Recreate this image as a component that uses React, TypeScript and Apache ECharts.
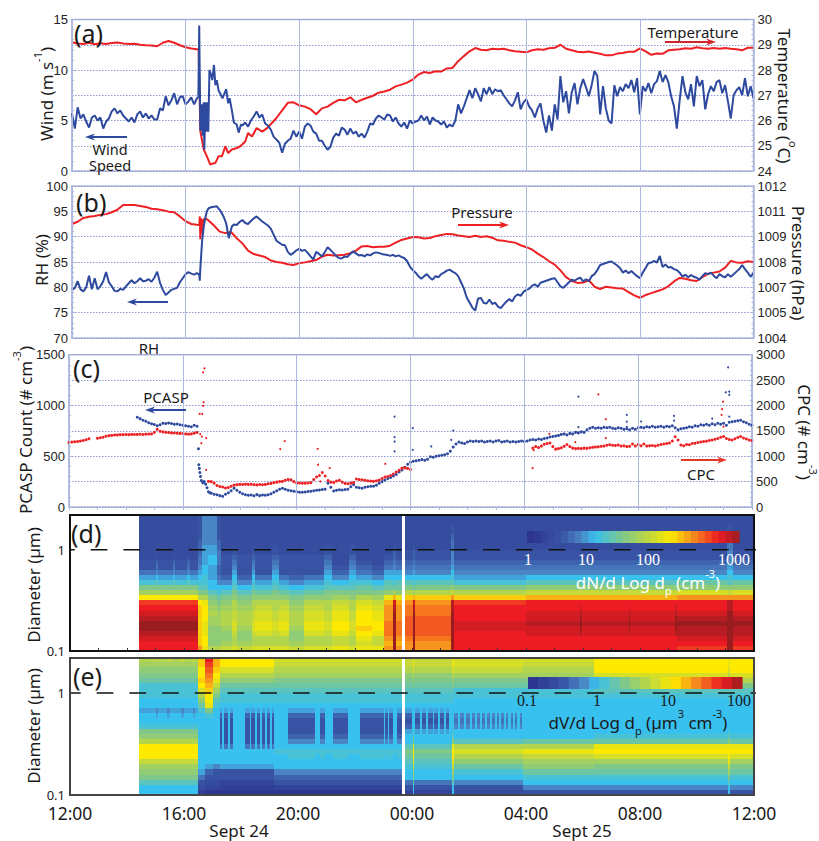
import React, { useEffect, useRef } from "react";
import * as echarts from "echarts";

const timeLabels = ["12:00", "16:00", "20:00", "00:00", "04:00", "08:00", "12:00"];

// Panel (a)
const windEarly = [5.7,4.2,6.3,5.2,5.6,4.9,4.3,5.3,5.5,5.0,5.3,4.2,4.9,5.2,5.9,6.2,5.7,6.0,5.5,5.2,4.9,5.3,4.8,5.6,5.9,5.3,5.7,5.2,5.5,5.1,5.1,6.2,6.0,7.4,6.5,7.0,7.7,6.6,7.3,7.4,6.6,6.9,7.3,6.6,7.2];
const gustHours = [4.45,4.48,4.52,4.57,4.6,4.64,4.66,4.7,4.73,4.77,4.8,4.84,4.9,4.94,5.0,5.05,5.1,5.16,5.25,5.3,5.43,5.5,5.55,5.63,5.7,5.8,5.87,5.95];
const gustSpeed = [7.3,14.4,4.0,6.6,3.5,6.8,2.1,6.8,3.9,6.8,3.9,10,9.5,9.0,10.5,8.5,9.0,8.0,7.5,7.2,8.1,6.7,7.2,6.0,4.8,4.6,3.8,4.6];
const windLate = [4.5,4.8,4.4,5.0,5.4,5.9,5.3,5.6,4.7,4.5,4.1,3.4,3.1,2.8,1.8,2.7,3.0,3.2,4.0,3.4,3.9,3.2,4.4,4.7,4.5,3.9,3.7,3.0,3.0,2.5,2.1,2.4,3.3,3.7,3.5,4.3,4.1,3.6,4.2,3.7,3.9,3.4,3.7,3.3,3.9,4.7,4.6,5.2,5.5,5.3,5.1,5.6,5.5,4.9,5.3,4.7,4.4,4.8,4.2,5.0,4.7,4.9,5.0,5.5,5.0,5.4,4.6,5.3,5.0,4.9,4.6,4.9,4.3,4.6,4.4,5.0,6.6,5.7,6.4,7.2,8.0,7.2,8.2,7.6,6.9,8.2,7.6,8.3,7.6,8.1,7.9,8.0,7.5,7.1,6.7,6.4,7.0,7.8,6.1,6.8,7.1,6.4,6.0,5.3,6.2,6.7,5.0,3.8,5.5,4.0,6.6,5.1,9.4,6.8,7.9,5.7,7.8,8.7,6.6,8.2,9.1,8.3,7.4,8.5,9.9,9.4,5.6,8.4,6.2,5.0,4.7,8.5,7.4,8.3,7.9,8.6,8.2,9.0,7.8,9.2,5.6,8.4,7.9,8.7,7.7,8.6,8.9,9.9,8.8,9.5,8.8,7.4,6.4,4.2,7.0,9.4,7.8,7.1,8.6,6.4,9.4,8.4,9.0,6.1,7.6,8.4,7.9,8.8,9.0,7.7,8.5,6.9,5.2,7.5,8.0,8.3,7.5,9.2,7.4,8.4,7.2];
const tempBefore = [29.1,29.05,29.03,29.08,29.02,29.06,29.03,29.07,29.09,29.05,29.03,29.04,29.0,28.98,28.97,28.94,29.08,29.15,29.08,28.98,28.9,28.85,28.82];
const tempFrontHours = [4.46,4.52,4.64,4.75,4.87,4.96,5.05,5.16,5.28,5.4,5.5,5.63,5.78,5.93,6.1,6.2,6.34,6.5,6.7,6.87,7.04];
const tempFront = [28.8,25.57,24.85,24.58,24.25,24.3,24.32,24.58,24.58,24.98,24.71,24.85,24.9,24.98,25.17,25.5,25.37,25.7,25.56,25.7,25.9];
const tempAfter = [26.1,26.4,26.7,26.72,26.6,26.55,26.45,26.25,26.48,26.55,26.7,26.82,26.8,26.92,26.72,26.82,26.9,26.98,27.1,27.15,27.22,27.35,27.42,27.5,27.62,27.82,27.92,27.88,27.95,27.94,28.06,28.08,28.35,28.55,28.74,28.87,28.8,28.78,28.84,28.82,28.84,28.78,28.74,28.72,28.7,28.78,28.82,28.8,28.86,28.88,29.0,28.84,28.78,28.72,28.7,28.73,28.68,28.64,28.58,28.58,28.65,28.67,28.72,28.72,28.86,28.74,28.6,28.65,28.64,28.78,28.8,28.82,28.86,28.84,28.9,28.86,28.84,28.87,28.84,28.87,28.84,28.82,28.78,28.88,28.88];

// Panel (b)
const rhBefore = [79.5,79.9,81.2,79.6,79.2,80.0,82.3,79.6,81.8,79.6,80.2,81.2,83.0,81.0,80.2,79.3,79.2,79.7,79.5,80.2,80.8,81.4,80.8,81.2,81.8,81.2,81.3,81.6,81.1,81.9,83.1,80.9,79.5,78.5,79.0,79.5,79.7,79.9,81.0,81.8,82.6,83.0,82.7,82.5,82.8];
const rhFrontHours = [4.48,4.5,4.52,4.58,4.64,4.69,4.75,4.81,4.9,5.0,5.1,5.2,5.28,5.35,5.43,5.52,5.63,5.7];
const rhFront = [82.5,81.3,83.8,89,92,93.6,95,95.6,95.8,95.9,96,95.3,94.6,93.8,92.6,89.7,92,92.4];
const rhAfter = [92.3,92.9,93.3,92.7,92.5,93.1,93.6,94,93.5,93,92.6,92.2,91.6,90.4,89.2,88.8,88.4,88.3,87.0,86.4,86.8,87.3,87.6,87.2,87.4,86.8,86.1,85.5,87.0,86.6,86.1,86.9,87.9,87.4,86.8,86.2,85.8,85.7,86.1,86.0,86.6,87.1,86.7,86.3,86.4,86.1,86.5,86.3,86.7,86.9,86.8,86.6,86.5,86.4,86.2,86.4,86.1,86.3,86.0,85.8,85.2,84.1,83.4,82.9,82.2,81.7,82.2,82.6,81.9,81.5,82.2,82.0,82.6,82.9,83.3,83.5,83.1,82.8,82.2,81.0,79.8,78.0,77.0,76.0,75.4,77.8,77.9,76.9,76.8,77.6,76.7,77.0,76.2,75.9,76.6,77.2,77.7,77.2,78.2,78.6,78.3,79.1,79.5,79.7,80.3,80.6,80.1,80.9,81.1,81.3,81.5,81.7,81.8,81.0,80.2,79.9,80.4,81.0,81.5,81.3,81.7,81.9,81.2,81.6,81.2,82.2,82.6,83.4,84.4,84.6,84.8,85.0,85.1,84.7,84.3,83.8,82.9,83.3,82.8,83.2,82.7,82.2,81.8,82.9,83.8,84.8,84.9,85.2,84.9,86.2,84.0,84.5,83.9,84.0,83.6,83.4,82.9,82.1,82.5,82.0,82.4,82.1,81.9,81.5,82.2,82.8,82.6,82.9,82.3,81.8,82.6,82.2,82.0,82.6,82.1,82.6,83.1,83.6,84.4,83.6,82.9,82.1,82.8];
const pressureBefore = [1010,1010.12,1010.32,1010.38,1010.42,1010.48,1010.52,1010.62,1010.75,1011,1011,1011,1010.95,1010.9,1010.8,1010.78,1010.72,1010.65,1010.62,1010.4,1010.15,1010,1009.96];
const pressureFrontHours = [4.48,4.5,4.52,4.55,4.58,4.62,4.69];
const pressureFront = [1009.95,1010.4,1009.2,1010.3,1009.5,1010.2,1010.3];
const pressureAfter = [1010.2,1009.92,1009.6,1009.52,1009.58,1009.25,1008.98,1008.6,1008.42,1008.34,1008.26,1008.08,1008.0,1007.96,1007.88,1007.84,1007.94,1007.98,1008.04,1008.1,1008.28,1008.38,1008.34,1008.36,1008.38,1008.46,1008.6,1008.82,1008.84,1008.78,1008.8,1008.8,1008.86,1009.02,1009.16,1009.24,1009.32,1009.3,1009.24,1009.26,1009.36,1009.42,1009.48,1009.46,1009.4,1009.36,1009.32,1009.38,1009.32,1009.36,1009.28,1009.14,1009.12,1009.06,1009.02,1008.88,1008.78,1008.66,1008.44,1008.26,1008.04,1007.86,1007.56,1007.2,1007.0,1006.9,1006.92,1007.04,1006.7,1006.58,1006.7,1006.66,1006.62,1006.6,1006.42,1006.24,1006.12,1006.26,1006.36,1006.46,1006.56,1006.72,1006.98,1007.16,1007.12,1007.04,1007,1007.2,1007.38,1007.44,1007.5,1007.7,1008.06,1007.98,1007.96,1008.04,1008];

// Panel (c)
const pcaspFirst = [884,870,855,845,830,820,812,800,810,825,822,828,822,815,818,810,805,800,796,790,805,795];
const pcaspOnsetHours = [4.55,4.56,4.58,4.6,4.62,4.65,4.7,4.75,4.8,4.85,4.9,4.95];
const pcaspOnset = [573,416,380,340,300,260,240,250,225,190,150,140];
const pcaspMain = [135,125,120,112,105,125,140,160,185,165,145,130,120,115,118,110,122,112,118,115,120,130,145,160,175,185,175,165,160,155,150,145,145,148,152,155,160,165,168,172,175,235,195,158,165,170,168,172,175,200,220,195,190,185,195,200,205,205,215,235,250,265,280,290,305,320,345,365,390,420,440,450,455,460,468,460,470,495,490,500,505,510,515,525,550,590,620,640,630,625,640,650,645,650,645,650,640,645,650,640,650,655,640,645,650,640,645,640,645,650,645,650,660,665,660,670,665,675,680,690,695,700,705,715,720,710,725,720,735,730,740,735,760,775,785,775,780,775,785,780,785,775,770,780,775,765,770,760,775,765,780,785,780,790,785,795,785,790,795,785,795,790,800,780,760,770,775,780,790,785,800,795,810,805,815,805,820,810,825,815,825,805,835,840,845,850,855,840,830,815,805];
const pcaspStrayHours = [11.44,11.44,11.44,11.44,12.08,12.08,12.73,13.5,13.43,17.9,17.9,19.6,19.6,19.6,20.1,21.26,21.26,22.6,23.16,23.08,23.2,23.2,23.2];
const pcaspStray = [890,688,645,547,776,563,596,753,660,1087,786,907,840,790,842,897,850,870,1375,1130,1136,1104,890];
const cpcStart = [1270,1280,1285,1290,1300,1310,1325,1345];
const cpcMorning = [1355,1365,1375,1395,1405,1410,1418,1420,1425,1425,1428,1425,1430,1428,1430,1432,1428,1435,1438,1440,1470,1530,1490,1480,1470,1468,1460,1458,1455,1450,1448,1440,1435,1440,1455,1467];
const cpcEvening = [504,500,470,425,405,395,375,385,410,430,440,445,442,450,445,448,440,435,442,438,445,458,465,480,490,500,505,525,540,535,500,470,472,468,470,472,480,540,590,620,680,610,520,490,485,510,525,490,465,458,470,480,550,540,535,525,515,510,505,515,530,560,590,600,620,650,690,725,765,770,760,740];
const cpcDawn = [1160,1190,1170,1200,1235,1250,1260,1190,1140,1150,1165,1195,1230,1190,1160,1150,1155,1150,1160,1155,1165,1175,1180,1185,1195,1200,1215,1225,1215,1210,1220,1200,1205,1190,1195,1240,1200,1230,1205,1240,1200,1205,1210,1200,1215,1230,1240,1250,1260,1300,1385,1320,1220,1205,1230,1225,1250,1255,1270,1280,1290,1295,1310,1320,1335,1350,1375,1390,1350,1330,1320,1345,1370,1390,1360,1340,1320,1310];
const cpcStrayHours = [4.61,4.67,4.73,4.71,4.68,4.59,4.76,4.71,4.65,4.82,4.82,7.42,7.58,8.74,8.75,9.16,11.11,8.83,16.29,16.33,16.88,17.79,18.6,18.86,18.86,22.98,22.95,22.93,23.0];
const cpcStray = [1434,1388,2063,1991,1834,1834,2731,2652,1257,1355,733,1140,1297,1146,832,766,851,504,766,1120,1441,1277,2220,1729,1356,2076,1926,1814,1585];

// Panels (d) and (e): lower edges of the diameter bins, in micrometres
const diameterEdges = [0.1,0.112,0.126,0.141,0.158,0.178,0.2,0.224,0.251,0.282,0.316,0.355,0.398,0.447,0.501,0.562,0.631,0.708,0.794,0.891,1,1.122,1.259,1.413,1.585,1.778,1.995,2.2];

// Number size spectra, in tenths of a decade above 1 cm-3, from smallest bin to largest
const dnPreA = [28,28,29,30,31,31,30,29,28,27,21,16,14,11,9,7,5,5,4,4,4,4,4,4,4,4,4];
const dnPreB = [28,28,29,30,31,31,30,29,28,27,21,16,14,12,10,8,7,6,5,4,4,4,4,4,4,4,4];
const dnEvA = [24,22,22,22,22,22,22,22,22,21,17,14,12,11,10,9,8,7,7,6,6,6,5,5,5,5,5];
const dnEvB = [20,21,21,20,20,20,21,21,21,20,17,14,12,11,11,10,10,9,9,9,9,8,8,8,8,8,8];
const dnEvC = [17,15,15,15,15,16,16,17,16,15,14,12,10,10,9,9,9,10,10,9,9,8,8,8,8,8,8];
const dnEvD = [17,15,15,15,15,16,16,16,15,14,13,11,10,8,7,6,6,7,7,7,6,6,5,5,5,5,5];
const dnDayA = [18,16,15,15,16,17,17,17,16,15,14,12,10,8,6,5,5,5,5,4,4,4,4,4,4,4,4];
const dnDayB = [19,17,17,19,20,20,19,19,18,17,15,13,11,9,7,5,5,5,5,4,4,4,4,4,4,4,4];
const dnDayC = [19,17,17,18,19,19,18,18,17,17,15,14,12,11,10,9,8,7,6,5,5,4,4,4,4,4,4];
const dnNightA = [20,18,18,20,21,21,20,20,19,18,16,14,12,10,8,6,5,4,4,4,4,4,4,4,4,4,4];
const dnNightB = [20,19,20,21,22,21,21,21,20,19,17,14,13,11,9,7,6,5,4,4,4,4,4,4,4,4,4];
const dnOrange = [24,23,24,25,25,25,24,24,24,23,20,15,13,12,10,9,7,6,5,4,4,4,4,4,4,4,4];
const dnDark = [31,31,31,31,31,31,31,31,30,29,23,16,13,11,10,9,8,7,6,6,5,4,4,4,4,4,4];
const dnAfter = [24,24,25,26,26,26,26,25,25,24,22,17,14,12,10,8,7,6,5,5,4,4,4,4,4,4,4];
const dnLateA = [28,28,28,28,29,29,28,28,28,27,22,17,14,11,9,8,7,6,5,5,4,4,4,4,4,4,4];
const dnLateB = [28,28,28,29,29,30,29,29,28,28,23,18,15,12,10,8,7,6,5,5,4,4,4,4,4,4,4];
const dnLateC = [27,28,29,30,30,31,30,29,28,28,24,19,15,13,10,8,7,6,5,5,4,4,4,4,4,4,4];
const dnLateMild = [28,28,28,30,31,31,31,30,29,28,23,18,15,12,10,8,7,6,5,5,4,4,4,4,4,4,4];
const dnLateDark = [31,31,31,31,31,31,31,31,30,30,24,18,15,12,11,10,9,8,8,8,7,7,6,5,5,4,4];
const dnColumns: [number, number, number[]][] = [
  [2.42,3.0,dnPreA],[3.0,3.1,dnPreB],[3.1,3.6,dnPreA],[3.6,3.7,dnPreB],[3.7,4.1,dnPreA],[4.1,4.2,dnPreB],[4.2,4.5,dnPreA],
  [4.5,4.62,dnEvA],[4.62,4.85,dnEvB],[4.85,5.15,dnEvC],[5.15,5.3,dnEvD],
  [5.3,5.7,dnDayA],[5.7,5.85,dnDayC],[5.85,6.4,dnDayA],[6.4,6.5,dnDayC],[6.5,7.1,dnDayB],[7.1,7.35,dnDayC],[7.35,7.7,dnDayB],[7.7,8.2,dnDayA],[8.2,8.9,dnDayB],[8.9,9.2,dnDayC],[9.2,9.8,dnNightA],[9.8,10.05,dnDayC],[10.05,10.6,dnNightB],[10.6,11.0,dnNightA],
  [11.0,11.35,dnOrange],[11.35,11.45,dnDark],[11.45,11.66,dnOrange],
  [11.74,12.05,dnAfter],[12.05,12.12,dnDark],[12.12,13.38,dnAfter],[13.38,13.48,dnLateDark],[13.48,16,dnLateA],
  [16,17.9,dnLateB],[17.9,17.98,dnLateMild],[17.98,19.6,dnLateB],[19.6,19.66,dnLateMild],[19.66,21.24,dnLateB],[21.24,21.3,dnLateMild],[21.3,23.05,dnLateC],[23.05,23.25,dnLateDark],[23.25,24,dnLateC],
];

// Volume size spectra, in tenths of a decade above 0.1 um3 cm-3, from smallest bin to largest
const dvPre = [10,10,12,14,15,16,18,21,21,21,17,15,14,11,10,10,9,10,10,11,11,11,13,14,15,16,17];
const dvPreSpeck = [10,10,12,14,15,16,18,21,21,21,17,15,14,11,10,9,8,10,10,11,11,11,13,14,15,16,18];
const dvOnset = [2,4,5,7,9,10,10,10,10,10,10,10,10,10,10,10,11,13,15,17,19,21,22,21,21,22,22];
const dvPlume = [1,3,4,5,6,9,10,10,10,10,10,10,10,10,10,11,14,20,21,21,22,23,24,25,26,27,28];
const dvFade = [1,3,4,5,5,8,10,10,10,10,10,10,10,10,10,10,10,11,12,14,16,18,20,21,22,23,23];
const dvDay = [1,2,3,5,5,9,10,10,10,10,10,10,10,10,10,10,10,10,11,11,12,13,15,17,19,21,21];
const dvDayBlock = [1,2,3,5,5,9,10,10,10,7,5,5,5,5,5,6,9,10,11,11,12,13,15,17,19,21,21];
const dvNight = [1,3,5,6,8,10,10,10,11,10,10,10,10,10,10,10,10,10,11,11,12,13,14,16,17,18,19];
const dvNightBlock = [1,3,5,6,8,10,10,11,11,10,8,6,5,5,5,6,9,10,11,11,12,13,14,16,17,18,19];
const dvDawn = [3,5,7,10,10,11,12,13,14,12,10,10,10,10,10,10,10,10,11,11,12,13,14,15,17,18,18];
const dvDawnBlock = [3,5,7,10,10,11,12,13,14,12,10,10,9,6,5,6,9,10,11,11,12,13,14,15,17,18,18];
const dvYellow = [10,10,12,14,16,18,20,21,21,20,15,12,11,10,10,10,10,10,11,11,12,14,15,17,19,20,20];
const dvMorn = [4,5,8,10,11,13,15,17,19,17,12,10,10,10,10,10,10,10,10,11,11,13,14,16,18,19,19];
const dvMornBlock = [4,5,8,10,11,13,15,17,19,17,12,10,10,8,7,8,10,10,10,11,11,13,14,16,18,19,19];
const dvMid = [5,8,10,11,13,15,16,18,20,17,13,10,10,10,10,10,10,10,10,11,11,13,14,16,17,18,19];
const dvLate = [5,8,10,11,13,14,16,19,21,20,13,11,10,10,10,10,10,10,10,11,12,14,17,19,21,21,21];
const dawnStripeEdges = [12.1,12.28,12.34,12.5,12.56,12.72,12.78,12.92,12.98,13.12,13.18,13.3,13.4];
const mornStripeEdges = [13.46,13.62,13.7,13.82,13.9,14.02,14.1,14.2,14.28,14.38,14.46,14.56,14.64,14.74,14.82,14.9,14.98,15.06,15.14,15.22,15.3,15.38,15.46,15.54,15.62,15.7,15.78,15.86,15.9];
const dvColumns: [number, number, number[]][] = [
  [2.42,3.0,dvPre],[3.0,3.1,dvPreSpeck],[3.1,3.4,dvPre],[3.4,3.5,dvPreSpeck],[3.5,3.9,dvPre],[3.9,4.0,dvPreSpeck],[4.0,4.3,dvPre],[4.3,4.4,dvPreSpeck],[4.4,4.5,dvPre],
  [4.5,4.72,dvOnset],[4.72,5.0,dvPlume],[5.0,5.26,dvFade],
  [5.26,5.35,dvDayBlock],[5.35,5.42,dvDay],[5.42,5.55,dvDayBlock],[5.55,5.6,dvDay],[5.6,5.73,dvDayBlock],[5.73,6.14,dvDay],[6.14,6.3,dvDayBlock],[6.3,6.36,dvDay],[6.36,6.5,dvDayBlock],[6.5,6.56,dvDay],[6.56,6.67,dvDayBlock],[6.67,6.73,dvDay],[6.73,6.85,dvDayBlock],[6.85,6.9,dvDay],[6.9,7.0,dvDayBlock],[7.0,7.1,dvDay],[7.1,7.16,dvDayBlock],[7.16,7.66,dvNight],
  [7.66,8.6,dvNightBlock],[8.6,8.77,dvNight],[8.77,8.95,dvNightBlock],[8.95,9.24,dvNight],[9.24,9.77,dvNightBlock],[9.77,10.17,dvNight],[10.17,11.0,dvNightBlock],[11,11.06,dvNight],[11.06,11.15,dvNightBlock],[11.15,11.2,dvNight],[11.2,11.35,dvNightBlock],[11.35,11.46,dvNight],[11.46,11.66,dvNightBlock],
  [11.74,12.0,dvDawnBlock],[12.0,12.04,dvDawn],[12.04,12.08,dvYellow],[12.08,12.1,dvDawn],[13.4,13.46,dvYellow],
  [15.9,18.4,dvMid],[18.4,23.08,dvLate],[23.08,23.16,dvYellow],[23.16,24,dvLate],
];

const colorStops: [number, number[]][] = [
  [0,[42,48,140]],[5,[57,83,164]],[8,[74,134,197]],[10,[56,192,238]],[14,[127,200,138]],[19,[214,222,38]],[21,[253,234,0]],[24,[247,148,29]],[28,[237,28,36]],[31,[155,28,31]],
];
function levelColor(v: number): string {
  for (let i = 1; i < colorStops.length; i++) {
    const [v1, c1] = colorStops[i];
    const [v0, c0] = colorStops[i - 1];
    if (v <= v1) {
      const f = (v - v0) / (v1 - v0);
      return `rgb(${c0.map((c, k) => Math.round(c + (c1[k] - c) * f)).join(",")})`;
    }
  }
  return "rgb(155,28,31)";
}

const SANS = '"Noto Sans", sans-serif';
const ARIAL = '"Liberation Sans", Arial, sans-serif';
const SERIF = '"Liberation Serif", serif';
const RED = "#ed2024";
const BLUE = "#2e4a9e";
const GRIDC = "#aeb7de";

const stepped = (start: number, values: number[], step = 0.1) => values.map((v, i) => [+(start + step * i).toFixed(2), v]);
const paired = (hs: number[], vs: number[]) => hs.map((h, i) => [h, vs[i]]);

function cells(columns: [number, number, number[]][]) {
  const out: number[][] = [];
  columns.forEach(([h0, h1, profile]) => {
    profile.forEach((v, i) => out.push([h0, h1, v, diameterEdges[i], diameterEdges[i + 1]]));
  });
  return out;
}
function stripes(edges: number[], a: number[], b: number[]) {
  const out: [number, number, number[]][] = [];
  for (let i = 0; i + 1 < edges.length; i++) out.push([edges[i], edges[i + 1], i % 2 === 0 ? a : b]);
  return out;
}

function renderCell(_p: any, api: any) {
  const a = api.coord([api.value(0), api.value(4)]);
  const b = api.coord([api.value(1), api.value(3)]);
  const x0 = Math.round(a[0]), x1 = Math.round(b[0]), y0 = Math.round(a[1]), y1 = Math.round(b[1]);
  return { type: "rect", shape: { x: x0, y: y0, width: x1 - x0, height: y1 - y0 }, style: { fill: levelColor(api.value(2)) } };
}

function text(x: number, y: number, t: string, size: number, o: any = {}) {
  return {
    type: "text", x, y, z: 60, rotation: o.rotation || 0,
    style: {
      text: t, fontSize: size, fontFamily: o.font || SANS, fill: o.fill || "#1a1a1a",
      align: o.align || "center", verticalAlign: "middle", lineHeight: o.lineHeight,
      rich: o.rich,
    },
  };
}
function supRich(size: number, fill = "#1a1a1a", font = SANS) {
  return {
    a: { fontSize: size, fontFamily: font, fill, lineHeight: size + 6, verticalAlign: "bottom" },
    s: { fontSize: Math.round(size * 0.62), fontFamily: font, fill, lineHeight: size + 6, verticalAlign: "top" },
    u: { fontSize: Math.round(size * 0.62), fontFamily: font, fill, lineHeight: size + 6, verticalAlign: "bottom", padding: [0, 0, -5, 0] },
  };
}
function arrow(x0: number, x1: number, y: number, color: string) {
  const dir = x1 > x0 ? 1 : -1;
  return [
    { type: "line", z: 60, shape: { x1: x0, y1: y, x2: x1 - dir * 4, y2: y }, style: { stroke: color, lineWidth: 2 } },
    { type: "polygon", z: 60, shape: { points: [[x1, y], [x1 - dir * 10, y - 3.5], [x1 - dir * 7, y], [x1 - dir * 10, y + 3.5]] }, style: { fill: color } },
  ];
}
function colorBar(x0: number, x1: number, y0: number, y1: number, steps: number) {
  const out: any[] = [];
  const w = (x1 - x0) / steps;
  for (let i = 0; i < steps; i++) {
    out.push({
      type: "rect", z: 55,
      shape: { x: x0 + i * w, y: y0, width: w + 0.6, height: y1 - y0 },
      style: { fill: levelColor(((i + 0.5) / steps) * 31) },
    });
  }
  return out;
}
function frame(x: number, y: number, w: number, h: number, color: string) {
  return { type: "rect", z: 58, shape: { x, y, width: w, height: h }, style: { fill: "none", stroke: color, lineWidth: 2 } };
}

function baseX(gridIndex: number, showLabel: boolean, showSplit: boolean, tickAt?: "top" | "bottom", tickColor = GRIDC) {
  return {
    type: "value", gridIndex, min: 0, max: 24, interval: 4, z: 30,
    position: tickAt || "bottom",
    axisLine: { show: false },
    axisTick: { show: !!tickAt, inside: true, length: 3, lineStyle: { color: tickColor } },
    minorTick: { show: !!tickAt, splitNumber: 4, length: 3, lineStyle: { color: tickColor } },
    axisLabel: showLabel
      ? { show: true, margin: 10, fontSize: 17.5, lineHeight: 15, fontFamily: SANS, color: "#1a1a1a", formatter: (v: number) => timeLabels[v / 4] }
      : { show: false },
    splitLine: { show: showSplit, lineStyle: { color: GRIDC, width: 1 } },
  };
}
function baseY(gridIndex: number, position: string, min: number, max: number, interval: number, fmt: (v: number) => string = (v) => String(v), dotted = true) {
  return {
    type: "value", gridIndex, position, min, max, interval,
    axisLine: { show: true, lineStyle: { color: GRIDC, width: 1.5 } },
    axisTick: { show: true, inside: true, length: 3, lineStyle: { color: GRIDC } },
    minorTick: { show: true, splitNumber: 5, length: 2, lineStyle: { color: GRIDC } },
    axisLabel: { margin: 4, fontSize: 13, fontFamily: ARIAL, color: "#222", formatter: fmt },
    splitLine: { show: dotted, lineStyle: { color: "#8f9bd0", width: 1, type: [1.5, 1.5] } },
  };
}
function logY(gridIndex: number) {
  return {
    type: "log", logBase: 10, gridIndex, min: 0.1, max: 2.2,
    axisLine: { show: false }, axisTick: { show: false }, splitLine: { show: false }, minorTick: { show: false },
    axisLabel: {
      margin: 5, fontSize: 13, lineHeight: 10, fontFamily: SANS, color: "#222", showMinLabel: true, showMaxLabel: false,
      formatter: (v: number) => (Math.abs(v - 1) < 0.01 ? "1" : Math.abs(v - 0.1) < 0.01 ? "0.1" : ""),
    },
  };
}
function dashed(xAxisIndex: number, yAxisIndex: number, offset: number) {
  return {
    type: "line", xAxisIndex, yAxisIndex, z: 20, clip: false, showSymbol: false, silent: true,
    data: [[0, 1], [24.2, 1]],
    lineStyle: { color: "#111", width: 1.6, type: [16.7, 16], dashOffset: offset },
  };
}

const gridBox = (left: number, right: number, top: number, bottom: number) => ({
  left, top, width: right - left, height: bottom - top, show: true, borderColor: GRIDC, borderWidth: 1.5, backgroundColor: "transparent",
});

function buildOption() {
  const windData = [...stepped(0, windEarly), ...paired(gustHours, gustSpeed), ...stepped(6, windLate)];
  const tempData = [...stepped(0, tempBefore, 0.2), ...paired(tempFrontHours, tempFront), ...stepped(7.2, tempAfter, 0.2)];
  const rhData = [...stepped(0, rhBefore), ...paired(rhFrontHours, rhFront), ...stepped(5.8, rhAfter)];
  const pressureData = [...stepped(0, pressureBefore, 0.2), ...paired(pressureFrontHours, pressureFront), ...stepped(4.8, pressureAfter, 0.2)];
  const dvAllColumns = [...dvColumns, ...stripes(dawnStripeEdges, dvDawnBlock, dvDawn), ...stripes(mornStripeEdges, dvMornBlock, dvMorn)];
  const line = (xi: number, yi: number, data: number[][], color: string, z: number) => ({
    type: "line", xAxisIndex: xi, yAxisIndex: yi, data, showSymbol: false, z, clip: true,
    lineStyle: { color, width: 2 },
  });
  const dots = (xi: number, yi: number, data: number[][], color: string, size: number, z: number) => ({
    type: "scatter", xAxisIndex: xi, yAxisIndex: yi, data, symbolSize: size, z, itemStyle: { color, opacity: 1 },
  });
  const cellSeries = (xi: number, yi: number, data: number[][]) => ({
    type: "custom", xAxisIndex: xi, yAxisIndex: yi, data, renderItem: renderCell, progressive: 0, z: 5,
    encode: { x: [0, 1], y: [3, 4] },
  });
  const graphics: any[] = [
    text(74, 33, "(a)", 25, { align: "left" }),
    text(76, 202, "(b)", 25, { align: "left" }),
    text(73, 368, "(c)", 25, { align: "left" }),
    text(71, 533, "(d)", 25, { align: "left" }),
    text(73, 676, "(e)", 25, { align: "left" }),
    text(43, 94, "{a|Wind (m s}{s|-1}{a|)}", 17, { rotation: Math.PI / 2, rich: supRich(17) }),
    text(787, 96, "{a|Temperature (}{s|o}{a|C)}", 17, { rotation: -Math.PI / 2, rich: supRich(17) }),
    text(41, 260, "RH (%)", 17, { rotation: Math.PI / 2 }),
    text(798, 263, "Pressure (hPa)", 17, { rotation: -Math.PI / 2 }),
    text(22, 430, "{a|PCASP Count (# cm}{s|-3}{a|)}", 17, { rotation: Math.PI / 2, rich: supRich(17) }),
    text(807, 432, "{a|CPC (# cm}{s|-3}{a|)}", 17, { rotation: -Math.PI / 2, rich: supRich(17) }),
    text(33, 585, "Diameter (µm)", 17, { rotation: Math.PI / 2 }),
    text(33, 726, "Diameter (µm)", 17, { rotation: Math.PI / 2 }),
    text(110, 149, "Wind", 14.5, { lineHeight: 12 }),
    text(110, 165, "Speed", 14.5, { lineHeight: 12 }),
    ...arrow(127, 85, 137, BLUE),
    text(693, 32, "Temperature", 15, {}),
    ...arrow(665, 716, 42, "#d0272d"),
    text(482, 212, "Pressure", 15, {}),
    ...arrow(458, 509, 225, RED),
    ...arrow(168, 127, 302, BLUE),
    text(149, 348, "RH", 15, {}),
    text(166, 397, "PCASP", 15, {}),
    ...arrow(186, 145, 410, BLUE),
    text(701, 474, "CPC", 15, {}),
    ...arrow(681, 727, 460, "#e0392b"),
    text(239, 830, "Sept 24", 17, { lineHeight: 18 }),
    text(582, 830, "Sept 25", 17, { lineHeight: 18 }),
    ...colorBar(527, 739, 531, 543, 31),
    text(528, 559, "1", 16, { font: SERIF, fill: "#fff" }),
    text(586, 559, "10", 16, { font: SERIF, fill: "#fff" }),
    text(648, 559, "100", 16, { font: SERIF, fill: "#fff" }),
    text(734, 559, "1000", 16, { font: SERIF, fill: "#fff" }),
    text(648, 579, "{a|dN/d Log d}{u|p}{a| (cm}{s|-3}{a|)}", 17, { fill: "#fff", rich: supRich(17, "#fff") }),
    ...colorBar(528, 742, 677, 689, 21),
    text(527, 700, "0.1", 16, { font: SERIF }),
    text(597, 700, "1", 16, { font: SERIF }),
    text(668, 700, "10", 16, { font: SERIF }),
    text(739, 700, "100", 16, { font: SERIF }),
    text(638, 719, "{a|dV/d Log d}{u|p}{a| (µm}{s|3}{a| cm}{s|-3}{a|)}", 17, { rich: supRich(17) }),
    frame(70, 515, 684, 136, "#111"),
    frame(70, 658, 684, 137, "#444"),
  ];
  return {
    animation: false,
    backgroundColor: "#fff",
    grid: [
      gridBox(72, 753.5, 19.5, 171),
      gridBox(72, 753.5, 186, 338),
      gridBox(69, 752, 354.7, 507),
      { left: 70, top: 515, width: 684, height: 136 },
      { left: 70, top: 658, width: 684, height: 137 },
    ],
    xAxis: [baseX(0, false, true), baseX(1, false, true), baseX(2, false, true, "top"), baseX(3, false, false, "bottom", "#333"), baseX(4, true, false)],
    yAxis: [
      baseY(0, "left", 0, 15, 5, undefined, false),
      baseY(0, "right", 24, 30, 1),
      baseY(1, "left", 70, 100, 5),
      baseY(1, "right", 1004, 1012, 4 / 3, (v: number) => String(Math.round(v)), false),
      baseY(2, "left", 0, 1500, 500, undefined, false),
      baseY(2, "right", 0, 3000, 500),
      logY(3),
      logY(4),
    ],
    series: [
      line(0, 1, tempData, RED, 3),
      line(0, 0, windData, BLUE, 4),
      line(1, 3, pressureData, RED, 3),
      line(1, 2, rhData, BLUE, 4),
      dots(2, 4, [...stepped(2.4, pcaspFirst), ...paired(pcaspOnsetHours, pcaspOnset), ...stepped(5, pcaspMain)], BLUE, 3, 3),
      dots(2, 4, paired(pcaspStrayHours, pcaspStray), BLUE, 2, 3),
      dots(2, 5, [...stepped(0, cpcStart), ...stepped(1, cpcMorning), ...stepped(4.9, cpcEvening), ...stepped(16.3, cpcDawn)], RED, 3, 4),
      dots(2, 5, paired(cpcStrayHours, cpcStray), RED, 2, 4),
      cellSeries(3, 6, cells(dnColumns)),
      cellSeries(4, 7, cells(dvAllColumns)),
      dashed(3, 6, 12),
      dashed(4, 7, 6),
    ],
    graphic: { elements: graphics },
  };
}

export default function App() {
  const ref = useRef<HTMLDivElement>(null);
  useEffect(() => {
    document.body.style.margin = "0";
    const chart = echarts.init(ref.current!, undefined, { renderer: "svg" });
    chart.setOption(buildOption() as any);
    return () => chart.dispose();
  }, []);
  return <div ref={ref} style={{ width: 819, height: 841 }} />;
}
